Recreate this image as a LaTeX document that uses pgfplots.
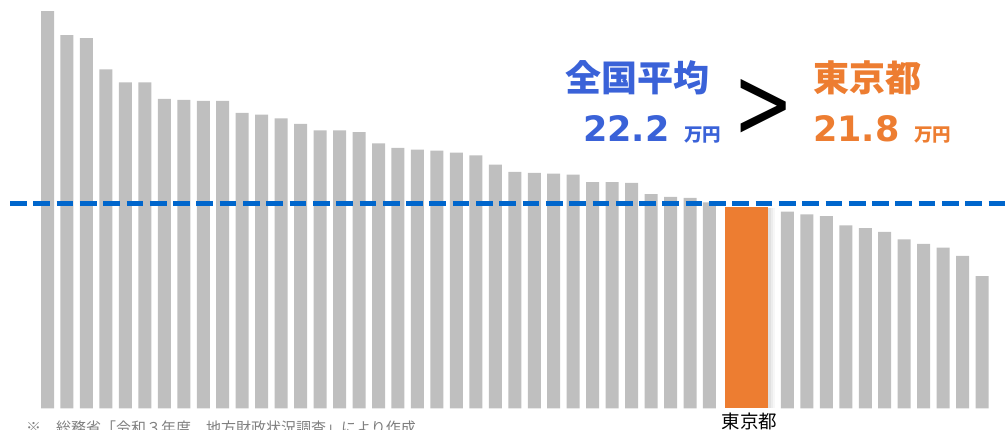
\documentclass[border=0pt]{standalone}
\usepackage{pgfplots}
\pgfplotsset{compat=1.18}
\usepackage{graphicx}
\usepackage{fontspec}
\setmainfont{DejaVu Sans}
\newfontfamily\jp{Noto Sans CJK JP}
\definecolor{barg}{HTML}{BFBFBF}
\definecolor{tokyo}{HTML}{ED7D31}
\definecolor{avgline}{HTML}{0066CC}
\definecolor{avgtext}{HTML}{3A62D8}
\definecolor{note}{HTML}{7F7F7F}
\begin{document}
\begin{tikzpicture}[x=1pt,y=1pt]
\begin{axis}[
  at={(0,0)}, anchor=south west,
  width=1006pt, height=430pt, scale only axis,
  xmin=-2.4397, xmax=49.229, ymin=-2.35, ymax=44.217,
  axis lines=none, ticks=none, clip=false,
]
\addplot[ybar, bar width=13pt, bar shift=0pt, fill=barg, draw=none] coordinates {
(0,43.0) (1,40.4) (2,40.1) (3,36.7) (4,35.3) (5,35.3) (6,33.5) (7,33.4) (8,33.3) (9,33.3)
(10,32.0) (11,31.8) (12,31.4) (13,30.8) (14,30.1) (15,30.1) (16,29.9) (17,28.7) (18,28.2) (19,28.0)
(20,27.9) (21,27.7) (22,27.4) (23,26.4) (24,25.6) (25,25.5) (26,25.4) (27,25.3) (28,24.5) (29,24.5)
(30,24.4) (31,23.2) (32,22.9) (33,22.8) (34,22.3)
(38,21.3) (39,21.0) (40,20.8) (41,19.8) (42,19.5) (43,19.1) (44,18.3) (45,17.8) (46,17.4) (47,16.5) (48,14.3)
};
\addplot[ybar, bar width=43pt, bar shift=7pt, fill=black, fill opacity=0.03, draw=none] coordinates {(35.9,21.7)};
\addplot[ybar, bar width=43pt, bar shift=5pt, fill=black, fill opacity=0.04, draw=none] coordinates {(35.9,21.7)};
\addplot[ybar, bar width=43pt, bar shift=3pt, fill=black, fill opacity=0.05, draw=none] coordinates {(35.9,21.7)};
\addplot[ybar, bar width=43pt, bar shift=0pt, fill=tokyo, draw=none] coordinates {(35.9,21.8)};
\addplot[avgline, line width=5pt, dash pattern=on 16.7pt off 6.6pt] coordinates {(-1.926,22.2) (49.229,22.2)};
\end{axis}
% annotations
\node[anchor=base, inner sep=0, text=avgtext] at (637,338) {\jp\bfseries\fontsize{36}{40}\selectfont 全国平均};
\node[anchor=base west, inner sep=0, text=avgtext] at (583,288) {\bfseries\fontsize{35}{40}\selectfont 22.2};
\node[anchor=base west, inner sep=0, text=avgtext] at (684,288.5) {\jp\bfseries\fontsize{18.5}{20}\selectfont 万円};
\node[anchor=base, inner sep=0, xscale=0.72] at (763.5,292.5) {\fontsize{100}{100}\selectfont >};
\node[anchor=base, inner sep=0, text=tokyo] at (867.5,338) {\jp\bfseries\fontsize{36}{40}\selectfont 東京都};
\node[anchor=base west, inner sep=0, text=tokyo] at (813,288) {\bfseries\fontsize{35}{40}\selectfont 21.8};
\node[anchor=base west, inner sep=0, text=tokyo] at (914,288.5) {\jp\bfseries\fontsize{18.5}{20}\selectfont 万円};
\node[anchor=base, inner sep=0] at (749.5,1.6) {\jp\fontsize{18.5}{20}\selectfont 東京都};
\node[anchor=base west, inner sep=0, text=note] at (26,-4) {\jp\fontsize{15}{16}\selectfont ※　総務省「令和３年度　地方財政状況調査」により作成};
\pgfresetboundingbox
\useasboundingbox (0,0) rectangle (1006,430);
\end{tikzpicture}
\end{document}
